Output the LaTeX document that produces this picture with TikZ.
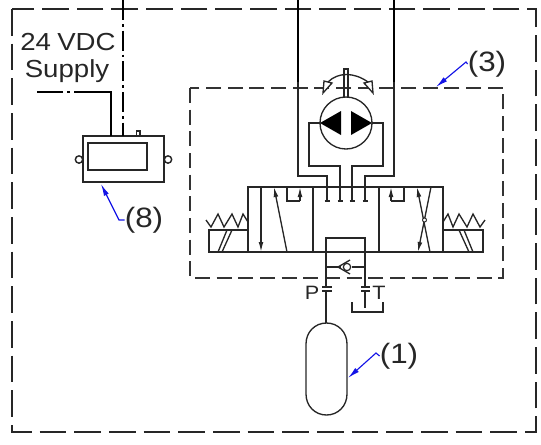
\documentclass[tikz,border=0pt]{standalone}
\usepackage{fontspec}
\setmainfont{Liberation Sans}
\newfontfamily\cadfont[FakeStretch=1.12]{Liberation Sans}
\usetikzlibrary{arrows.meta}
\definecolor{leaderblue}{RGB}{20,20,230}
\tikzset{
  ln/.style={line width=1pt,draw=black!85},
  wire/.style={line width=1.4pt,draw=black},
  outerdash/.style={line width=1.1pt,draw=black!85,dash pattern=on 20pt off 6pt},
  innerdash/.style={line width=1pt,draw=black!80,dash pattern=on 11.25pt off 5pt},
  ctrl/.style={line width=1.1pt,draw=black,dash pattern=on 15pt off 3pt on 2pt off 3pt},
  leader/.style={line width=0.85pt,draw=leaderblue,-{Latex[length=9pt,width=4pt]}},
  lbl/.style={inner sep=0pt,font=\cadfont\fontsize{18.5pt}{20pt}\selectfont,text=black!85},
  num/.style={inner sep=0pt,font=\cadfont\fontsize{21pt}{22pt}\selectfont,text=black!85},
  port/.style={inner sep=0pt,font=\cadfont\fontsize{14.5pt}{16pt}\selectfont,text=black!85},
  tip/.style={-{Latex[length=7.5pt,width=3.6pt]},line width=1pt,draw=black!85}
}
\begin{document}
\begin{tikzpicture}[x=0.75pt,y=-0.75pt]
\useasboundingbox (0,0) rectangle (541,444);
% enclosures
\draw[outerdash] (12,9) rectangle (536,432);
\draw[innerdash] (190,88) rectangle (503,278);
% controller
\node[draw=black!85,line width=1.2pt,minimum width=60.75pt,minimum height=34.5pt,inner sep=0pt] (ctl) at (123.5,159) {};
\node[draw=black!85,line width=1.2pt,minimum width=44pt,minimum height=20.25pt,inner sep=0pt] (scr) at (117.5,156.5) {};
\node[circle,draw=black!85,line width=1.1pt,fill=white,minimum size=5.5pt,inner sep=0pt] (lugl) at (79,159.5) {};
\node[circle,draw=black!85,line width=1.1pt,fill=white,minimum size=5.5pt,inner sep=0pt] (lugr) at (168,159.5) {};
\draw[ln] (136.5,136) rectangle (140,131);
\draw[ctrl] (123,0) -- (123,136);
\draw[wire] (111,136) -- (111,92) -- (74,92);
\draw[wire] (70,92) -- (67,92) (63,92) -- (37,92);
% text
\node[lbl] (v24) at (68,42) {24\hspace{0.25em}VDC};
\node[lbl] (sup) at (67,71) {Supply};
\node[num] (l8) at (144,220) {(8)};
\node[num] (l3) at (487,64) {(3)};
\node[num] (l1) at (399,356) {(1)};
\node[port] (pp) at (312,293) {P};
\node[port] (tt) at (379,293) {T};
% leaders
\coordinate (t8) at (101,184);
\coordinate (t3) at (436,87);
\coordinate (t1) at (348,378);
\draw[leader] (l8.west) -- (119,220) -- (t8);
\draw[leader] (l3.west) -- (466,62) -- (t3);
\draw[leader] (l1.west) -- (376,353) -- (t1);
% pump lines
\draw[wire] (298,0) -- (298,82) (394,0) -- (394,82);
\draw[ln] (298,82) -- (298,176) -- (327,176) -- (327,201);
\draw[ln] (394,82) -- (394,176) -- (365,176) -- (365,201);
\draw[ln] (320,123) -- (309,123) -- (309,166) -- (340,166) -- (340,201);
\draw[ln] (372,123) -- (383,123) -- (383,166) -- (352,166) -- (352,201);
% pump
\node[circle,draw=black!85,line width=1pt,minimum size=39pt,inner sep=0pt] (pump) at (346,123) {};
\fill[black] (320,123) -- (341,111) -- (341,135) -- cycle;
\fill[black] (372,123) -- (351,111) -- (351,135) -- cycle;
\draw[ln] (344,97) -- (344,69) -- (348,69) -- (348,97);
\draw[ln] (328,82) .. controls (338,72) and (354,72) .. (368,82);
\draw[ln,fill=white] (323,93) -- (324,81) -- (332,83) -- cycle;
\draw[ln,fill=white] (373,93) -- (372,81) -- (364,83) -- cycle;
% valve body
\draw[ln] (248,187) rectangle (443,252);
\draw[ln] (313,187) -- (313,252) (379,187) -- (379,252);
% port caps
\foreach \x in {327,340,352,365} \draw[ln] (\x-2.5,201) -- (\x+2.5,201);
% left cell
\draw[tip] (261,187) -- (261,252);
\draw[tip] (287,252) -- (274,187);
\draw[ln] (287,187) -- (287,201) -- (300,201);
\draw[tip] (300,201) -- (300,187);
% right cell
\draw[ln] (404,187) -- (404,201) -- (391,201);
\draw[tip] (391,201) -- (391,187);
\draw[tip] (430,252) -- (417,187);
\draw[tip] (431,187) -- (418,252);
\node[circle,draw=black!85,line width=0.7pt,fill=white,minimum size=3pt,inner sep=0pt] (cross) at (424.5,220) {};
% solenoids and springs
\draw[ln] (209,230) rectangle (248,252);
\draw[ln] (218,252) -- (227,230) (222,252) -- (232,230);
\draw[ln] (206,220) -- (211,227) -- (218,214) -- (224,227) -- (232,214) -- (238,227) -- (243,214) -- (248,222);
\draw[ln] (443,230) rectangle (483,252);
\draw[ln] (473,252) -- (464,230) (469,252) -- (459,230);
\draw[ln] (485,220) -- (480,227) -- (473,214) -- (467,227) -- (459,214) -- (453,227) -- (448,214) -- (443,222);
% lower block
\draw[ln] (326,287) -- (326,238) -- (365,238) -- (365,287);
\draw[ln] (326,291) -- (326,323);
\draw[ln] (365,291) -- (365,308);
\draw[ln] (326,267) -- (341,267) (352,267) -- (365,267);
\draw[ln] (350,260) -- (338,267) -- (350,274);
\node[circle,draw=black!85,line width=0.9pt,minimum size=5.5pt,inner sep=0pt] (ball) at (347,267) {};
\draw[ln] (322,287) -- (332,287) (322,291) -- (332,291);
\draw[ln] (361,287) -- (370,287) (361,291) -- (370,291);
\draw[ln] (352,302) -- (352,312) -- (383,312) -- (383,302);
% accumulator
\draw[ln] (306,344) .. controls (306,332) and (315,323) .. (326.5,323)
  .. controls (338,323) and (347,332) .. (347,344) -- (347,394)
  .. controls (347,406) and (338,415) .. (326.5,415)
  .. controls (315,415) and (306,406) .. (306,394) -- cycle;
\end{tikzpicture}
\end{document}
